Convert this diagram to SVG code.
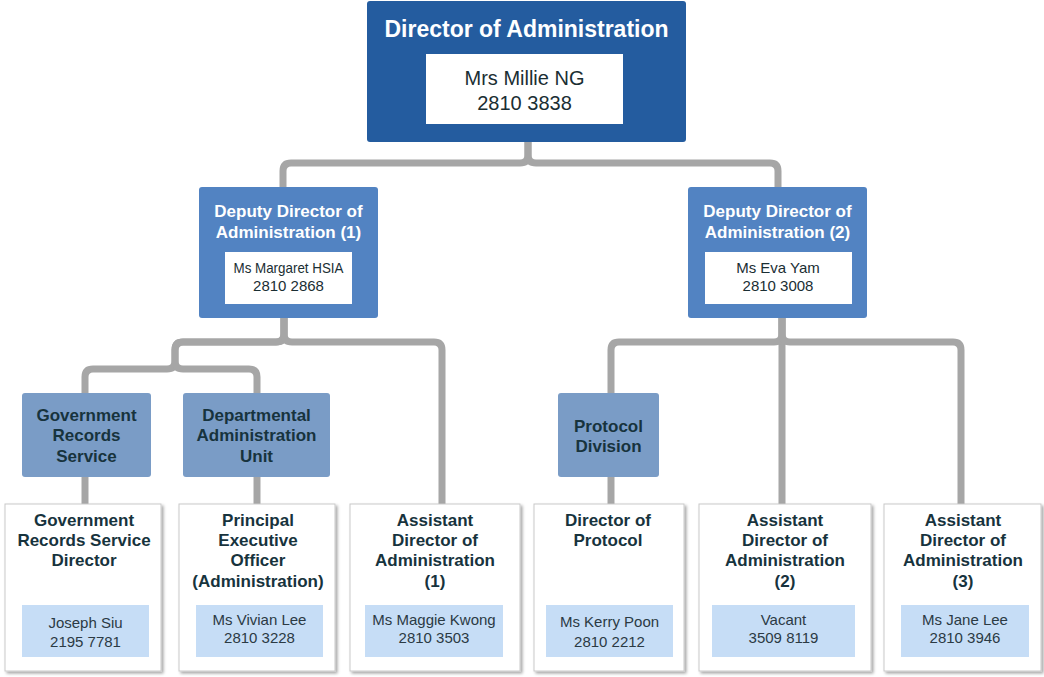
<svg xmlns="http://www.w3.org/2000/svg" width="1044" height="677" viewBox="0 0 1044 677">
<defs>
<filter id="sh" x="-10%" y="-10%" width="130%" height="130%">
<feDropShadow dx="2" dy="2" stdDeviation="1.5" flood-color="#000" flood-opacity="0.35"/>
</filter>
<style>
.conn{fill:none;stroke:#a6a6a6;stroke-width:7;stroke-linejoin:round}
.top{fill:#245c9f}
.dep{fill:#5283c2}
.div{fill:#7a9cc6}
.wbox{fill:#ffffff}
.card{fill:#ffffff;stroke:#c9c9c9;stroke-width:1;filter:url(#sh)}
.lb{fill:#c6ddf6}
text{font-family:"Liberation Sans",Arial,sans-serif;text-anchor:middle}
.tt{font-size:23px;font-weight:bold;fill:#ffffff}
.dt{font-size:17px;font-weight:bold;fill:#ffffff}
.nm{font-size:20px;fill:#1a2e33}
.dn{font-size:15px;fill:#1a2e33}
.bt{font-size:17px;font-weight:bold;fill:#17333d}
.sn{font-size:15px;fill:#2b3a44}
</style>
</defs>
<g id="connectors">
<path class="conn" d="M528,142 V155 Q528,163 520,163 H291 Q283,163 283,171 V188"/>
<path class="conn" d="M528,142 V155 Q528,163 536,163 H770 Q778,163 778,171 V188"/>
<path class="conn" d="M284,318 V334 Q284,342 276,342 H183 Q175,342 175,350 V361 Q175,369 167,369 H93 Q85,369 85,377 V393"/>
<path class="conn" d="M284,318 V334 Q284,342 276,342 H183 Q175,342 175,350 V361 Q175,369 183,369 H249 Q257,369 257,377 V393"/>
<path class="conn" d="M284,318 V334 Q284,342 292,342 H434 Q442,342 442,350 V504"/>
<path class="conn" d="M85,477 V504"/>
<path class="conn" d="M257,477 V504"/>
<path class="conn" d="M782,318 V504"/>
<path class="conn" d="M782,318 V334 Q782,342 774,342 H619 Q611,342 611,350 V393"/>
<path class="conn" d="M782,318 V334 Q782,342 790,342 H953 Q961,342 961,350 V504"/>
<path class="conn" d="M611,477 V504"/>
</g>
<g id="director">
<rect class="top" x="367" y="1" width="319" height="141" rx="3"/>
<text class="tt" x="526.5" y="37">Director of Administration</text>
<rect class="wbox" x="426" y="54" width="197" height="70"/>
<text class="nm" x="524.5" y="85">Mrs Millie NG</text>
<text class="nm" x="524.5" y="110">2810 3838</text>
</g>
<g id="deputy1">
<rect class="dep" x="199" y="187" width="179" height="131" rx="3"/>
<text class="dt" x="288.5" y="217">Deputy Director of</text>
<text class="dt" x="288.5" y="238">Administration (1)</text>
<rect class="wbox" x="225" y="252" width="127" height="52"/>
<text class="dn" x="288.5" y="273" textLength="110" lengthAdjust="spacingAndGlyphs">Ms Margaret HSIA</text>
<text class="dn" x="288.5" y="291">2810 2868</text>
</g>
<g id="deputy2">
<rect class="dep" x="688" y="187" width="179" height="131" rx="3"/>
<text class="dt" x="777.5" y="217">Deputy Director of</text>
<text class="dt" x="777.5" y="238">Administration (2)</text>
<rect class="wbox" x="705" y="252" width="147" height="52"/>
<text class="dn" x="778" y="273">Ms Eva Yam</text>
<text class="dn" x="778" y="291">2810 3008</text>
</g>
<g id="grs">
<rect class="div" x="22" y="393" width="129" height="84" rx="3"/>
<text class="bt" x="86.5" y="421">Government</text>
<text class="bt" x="86.5" y="441">Records</text>
<text class="bt" x="86.5" y="462">Service</text>
</g>
<g id="dau">
<rect class="div" x="183" y="393" width="147" height="84" rx="3"/>
<text class="bt" x="256.5" y="421">Departmental</text>
<text class="bt" x="256.5" y="441">Administration</text>
<text class="bt" x="256.5" y="462">Unit</text>
</g>
<g id="protocol">
<rect class="div" x="558" y="393" width="101" height="84" rx="3"/>
<text class="bt" x="608.5" y="432">Protocol</text>
<text class="bt" x="608.5" y="452">Division</text>
</g>
<g id="grsdirector">
<rect class="card" x="5" y="504" width="156" height="167"/>
<text class="bt" x="84" y="526">Government</text>
<text class="bt" x="84" y="546">Records Service</text>
<text class="bt" x="84" y="566">Director</text>
<rect class="lb" x="22" y="605" width="127" height="52"/>
<text class="sn" x="85.5" y="628">Joseph Siu</text>
<text class="sn" x="85.5" y="647">2195 7781</text>
</g>
<g id="peo">
<rect class="card" x="179" y="504" width="156" height="167"/>
<text class="bt" x="258" y="526">Principal</text>
<text class="bt" x="258" y="546">Executive</text>
<text class="bt" x="258" y="566">Officer</text>
<text class="bt" x="258" y="587">(Administration)</text>
<rect class="lb" x="196" y="605" width="127" height="52"/>
<text class="sn" x="259.5" y="625">Ms Vivian Lee</text>
<text class="sn" x="259.5" y="643">2810 3228</text>
</g>
<g id="asst1">
<rect class="card" x="350" y="504" width="170" height="167"/>
<text class="bt" x="435" y="526">Assistant</text>
<text class="bt" x="435" y="546">Director of</text>
<text class="bt" x="435" y="566">Administration</text>
<text class="bt" x="435" y="587">(1)</text>
<rect class="lb" x="365" y="605" width="138" height="52"/>
<text class="sn" x="434" y="625">Ms Maggie Kwong</text>
<text class="sn" x="434" y="643">2810 3503</text>
</g>
<g id="dirprotocol">
<rect class="card" x="534" y="504" width="150" height="167"/>
<text class="bt" x="608" y="526">Director of</text>
<text class="bt" x="608" y="546">Protocol</text>
<rect class="lb" x="546" y="605" width="127" height="52"/>
<text class="sn" x="609.5" y="627">Ms Kerry Poon</text>
<text class="sn" x="609.5" y="647">2810 2212</text>
</g>
<g id="asst2">
<rect class="card" x="699" y="504" width="172" height="167"/>
<text class="bt" x="785" y="526">Assistant</text>
<text class="bt" x="785" y="546">Director of</text>
<text class="bt" x="785" y="566">Administration</text>
<text class="bt" x="785" y="587">(2)</text>
<rect class="lb" x="712" y="605" width="143" height="52"/>
<text class="sn" x="783.5" y="625">Vacant</text>
<text class="sn" x="783.5" y="643">3509 8119</text>
</g>
<g id="asst3">
<rect class="card" x="884" y="504" width="157" height="167"/>
<text class="bt" x="963" y="526">Assistant</text>
<text class="bt" x="963" y="546">Director of</text>
<text class="bt" x="963" y="566">Administration</text>
<text class="bt" x="963" y="587">(3)</text>
<rect class="lb" x="901" y="605" width="128" height="52"/>
<text class="sn" x="965" y="625">Ms Jane Lee</text>
<text class="sn" x="965" y="643">2810 3946</text>
</g>
</svg>
